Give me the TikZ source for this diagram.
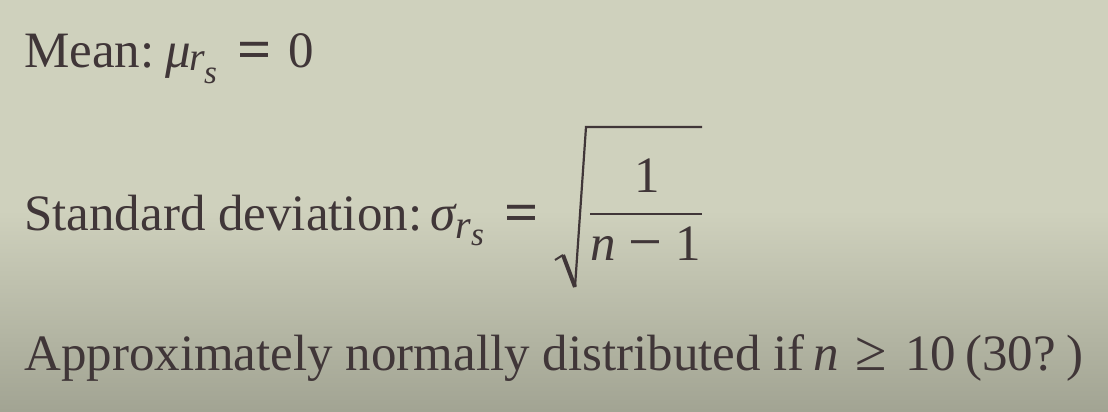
\documentclass[tikz,border=0pt]{standalone}
\usepackage{graphicx}
\usepackage{fontspec}
\setmainfont{Liberation Serif}
\newcommand{\bigeq}[1]{\raisebox{#1}{\scalebox{1.18}[1.1]{\bfseries =}}}
\begin{document}
\begin{tikzpicture}[x=1bp,y=1bp]
\definecolor{bgtop}{HTML}{CFD1BD}
\definecolor{bgbot}{HTML}{A2A493}
\definecolor{ink}{HTML}{403638}
\tikzset{
  txt/.style={inner sep=0pt,anchor=base west,text=ink,font=\fontsize{51bp}{61bp}\selectfont},
  itx/.style={txt,font=\fontsize{51bp}{61bp}\selectfont\itshape},
  subone/.style={txt,font=\fontsize{40bp}{48bp}\selectfont\itshape},
  subtwo/.style={txt,font=\fontsize{33bp}{40bp}\selectfont\itshape},
  rule/.style={draw=ink,line width=2.6bp}
}
\fill[bgtop] (0,200) rectangle (1108,411);
\shade[top color=bgtop,bottom color=bgbot] (0,0) rectangle (1108,200.5);
\useasboundingbox (0,0) rectangle (1108,411);
% line 1
\node[txt] (mean) at (24,344) {Mean:};
\node[itx] (mu) at (165,344) {μ};
\node[subone] (mur) at (189,341) {r};
\node[subtwo] (mus) at (204,328) {s};
\node[txt] (eqa) at (237,344) {\bigeq{-1bp}};
\node[txt] (zero) at (288,344) {0};
% line 2
\node[txt] (sd) at (24,181) {Standard deviation:};
\node[itx] (sigma) at (430,181) {σ};
\node[subone] (sgr) at (455,173) {r};
\node[subtwo] (sgs) at (471,166) {s};
\node[txt] (eqb) at (504,181) {\bigeq{-1bp}};
\coordinate (ra) at (555,151);
\coordinate (rb) at (563,156);
\coordinate (rc) at (575,124);
\coordinate (rd) at (586,284);
\coordinate (re) at (702,284);
\draw[draw=ink,line width=2bp,line join=miter] (ra) -- (rb);
\draw[draw=ink,line width=4bp] (rb) -- (rc);
\draw[draw=ink,line width=2.2bp,line join=miter] (rc) -- (rd) -- (re);
\coordinate (fa) at (590,197);
\coordinate (fb) at (702,197);
\draw[rule] (fa) -- (fb);
\node[txt,anchor=base] (num) at (647,219) {1};
\node[txt] (den) at (590,151) {\textit{n} \raisebox{-2.5bp}{\scalebox{1.18}[1.2]{−}} 1};
% line 3
\node[txt] (approx) at (24,41) {Approximately normally distributed if};
\node[itx] (nn) at (813,41) {n};
\node[txt] (geq) at (855,41) {\scalebox{1.12}{≥}};
\node[txt] (ten) at (905,41) {10};
\node[txt] (paren) at (965,41) {(30?};
\node[txt] (close) at (1066,41) {)};
\end{tikzpicture}
\end{document}
